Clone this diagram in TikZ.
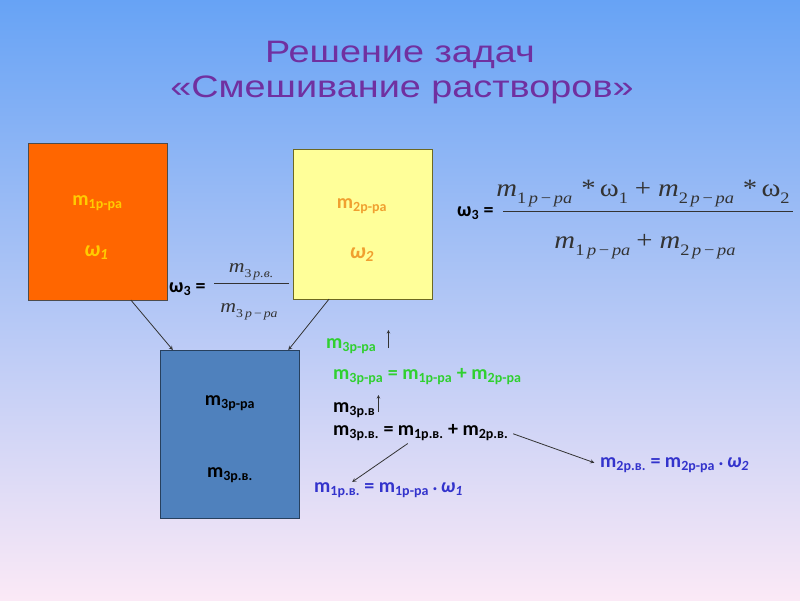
\documentclass[tikz,border=0pt]{standalone}
\usepackage{fontspec}
\setmainfont{Carlito}
\newfontfamily\frm{Liberation Serif}[FakeStretch=1.15]
\newfontfamily\ttl{Liberation Sans}[FakeStretch=1.22]
\usetikzlibrary{positioning}
\definecolor{bgtop}{HTML}{67A3F5}
\definecolor{bgmid}{HTML}{A8CCF0}
\definecolor{bgbot}{HTML}{FBE9F6}
\definecolor{orbox}{HTML}{FF6600}
\definecolor{yebox}{HTML}{FFFF99}
\definecolor{blbox}{HTML}{4F81BD}
\definecolor{ttlc}{HTML}{7030A0}
\definecolor{gold}{HTML}{FFCC00}
\definecolor{amber}{HTML}{F0A030}
\definecolor{grn}{HTML}{30D030}
\definecolor{blu}{HTML}{3333CC}
\definecolor{dk}{HTML}{333333}
\newcommand{\sub}[1]{\textsubscript{#1}}
\newcommand{\fsub}[2]{\raisebox{-0.28em}{\fontsize{#1}{#1}\selectfont #2}}
\newcommand{\mdot}{\,\raisebox{1.5pt}{.}\,}

\begin{document}
\begin{tikzpicture}[x=1pt,y=-1pt,
    box/.style={rectangle,line width=1pt,outer sep=0pt,minimum width=139pt},
    lbl/.style={font=\bfseries\fontsize{20}{22}\selectfont,inner sep=0pt,anchor=base},
    eq/.style={font=\bfseries\fontsize{20}{22}\selectfont,inner sep=0pt,anchor=base west},
    frs/.style={font=\frm\fontsize{19}{20}\selectfont,text=dk,inner sep=0pt,anchor=base},
    frl/.style={font=\frm\fontsize{25}{26}\selectfont,text=dk,inner sep=0pt,anchor=base},
    ttlstyle/.style={font=\ttl\fontsize{31}{36}\selectfont,text=ttlc,inner sep=0pt,anchor=base},
    ar/.style={->,>=stealth,draw=dk,line width=0.8pt},
    bar/.style={draw=dk,line width=0.8pt}]
  \shade[top color=bgtop,middle color=bgmid,bottom color=bgbot] (0,0) rectangle (800,600);
  \useasboundingbox (0,0) rectangle (800,600);

  \node[ttlstyle] (t1) at (400,62) {Решение задач};
  \node[ttlstyle] (t2) at (402,97) {«Смешивание растворов»};

  \node[box,fill=orbox,draw=black!70,minimum height=157pt] (r1) at (97.5,221.5) {};
  \node[box,fill=yebox,draw=olive!70!black,minimum height=150pt] (r2) at (362.5,224) {};
  \node[box,fill=blbox,draw=blbox!50!black,minimum height=168pt] (r3) at (229.5,434) {};

  \node[lbl,text=gold] (m1) at (97.5,205) {m\sub{1р-ра}};
  \node[lbl,text=gold,font=\bfseries\fontsize{22}{24}\selectfont] (w1) at (96.5,256) {\textit{ω}\sub{\textit{1}}};
  \node[lbl,text=amber] (m2) at (362,208) {m\sub{2р-ра}};
  \node[lbl,text=amber,font=\bfseries\fontsize{22}{24}\selectfont] (w2) at (362,258) {\textit{ω}\sub{\textit{2}}};
  \node[lbl,text=black] (m3) at (230,405) {m\sub{3р-ра}};
  \node[lbl,text=black] (v3) at (230,477) {m\sub{3р.в.}};

  \draw[ar] (r1.-67.5) -- (r3.124);
  \draw[ar] (r2.246.6) -- (r3.55.6);

  \node[eq] (wa) at (169,292) {ω\sub{3} =};
  \node[frs] (fna) at (251,272) {\textit{m}\fsub{12}{3\,\textit{р.в.}}};
  \node[frs] (fda) at (249,312) {\textit{m}\fsub{12}{3\,\textit{р}\,−\,\textit{ра}}};
  \draw[bar] (214,283) -- (289,283);

  \node[eq] (wb) at (457,216) {ω\sub{3} =};
  \node[frl] (fnb) at (643,196) {\textit{m}\fsub{16}{1\,\textit{р}\,−\,\textit{ра}}\hspace{9pt}*\,ω\fsub{16}{1}\;+\;\textit{m}\fsub{16}{2\,\textit{р}\,−\,\textit{ра}}\hspace{9pt}*\,ω\fsub{16}{2}};
  \node[frl] (fdb) at (645,248) {\textit{m}\fsub{16}{1\,\textit{р}\,−\,\textit{ра}}\hspace{6pt}+\;\textit{m}\fsub{16}{2\,\textit{р}\,−\,\textit{ра}}};
  \draw[bar] (503,211) -- (793,211);

  \node[eq,text=grn] (g1) at (326,348) {m\sub{3р-ра}};
  \draw[ar,line width=0.6pt] ([xshift=12pt]g1.base east) -- ++(0,-18);
  \node[eq,text=grn] (g2) at (333,379) {m\sub{3р-ра} = m\sub{1р-ра} + m\sub{2р-ра}};

  \node[eq] (k1) at (333,412) {m\sub{3р.в}};
  \draw[ar,line width=0.6pt] ([xshift=3pt]k1.base east) -- ++(0,-17);
  \node[eq] (ka) at (333,435) {m\sub{3р.в.} =};
  \node[eq] (kb) at (ka.base east) {\hspace{0.2em}m\sub{1р.в.}};
  \node[eq] (kc) at (kb.base east) {\hspace{0.2em}+ m\sub{2р.в.}};

  \node[eq,text=blu] (ba) at (314,492) {m\sub{1р.в.}};
  \node[eq,text=blu] (bb) at (ba.base east) {\hspace{0.2em}= m\sub{1р-ра}\mdot\textit{ω}\sub{\textit{1}}};
  \node[eq,text=blu] (bc) at (600,467) {m\sub{2р.в.} = m\sub{2р-ра}\mdot\textit{ω}\sub{\textit{2}}};

  \draw[ar] ([xshift=-11pt,yshift=-3pt]kb.south) -- ([xshift=-8pt]ba.north east);
  \draw[ar,shorten <=5pt,shorten >=6pt] (kc.east) -- (bc.west);
\end{tikzpicture}
\end{document}
